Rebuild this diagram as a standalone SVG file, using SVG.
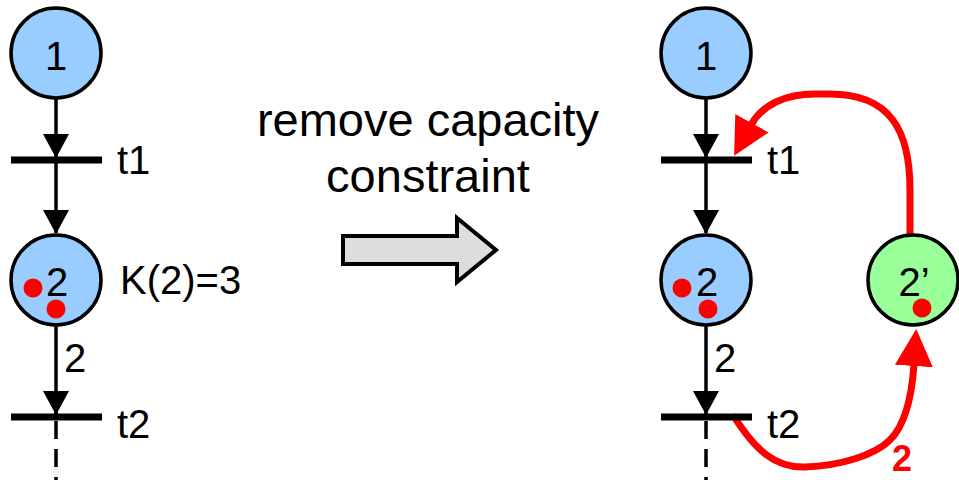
<svg xmlns="http://www.w3.org/2000/svg" width="959" height="480" viewBox="0 0 959 480">
<style>
.place{stroke:#000;stroke-width:3.5}
.blue{fill:#99CCFF}
.green{fill:#99FF99}
.bar{stroke:#000;stroke-width:7}
.arc{stroke:#000;stroke-width:3.5;fill:none}
.red{stroke:#FF0000;stroke-width:7;fill:none}
.tok{fill:#FF0000}
text{font-family:"Liberation Sans",Arial,sans-serif;font-size:40px;fill:#000}
.mid{text-anchor:middle}
.big{font-size:47px}
</style>
<defs>
<marker id="ab" markerUnits="userSpaceOnUse" markerWidth="24" markerHeight="26" refX="23" refY="13" orient="auto">
<path d="M0,0 L24,13 L0,26 z" fill="#000"/>
</marker>
<marker id="ar" markerUnits="userSpaceOnUse" markerWidth="38" markerHeight="40" refX="2" refY="20" orient="auto">
<path d="M0,1 L37,20 L0,39 z" fill="#FF0000"/>
</marker>
</defs>

<g id="connectors">
<line class="arc" x1="56" y1="99" x2="56" y2="157" marker-end="url(#ab)"/>
<line class="arc" x1="56" y1="160" x2="56" y2="233" marker-end="url(#ab)"/>
<line class="arc" x1="56" y1="326" x2="56" y2="414" marker-end="url(#ab)"/>
<line class="arc" x1="56" y1="417" x2="56" y2="480" stroke-dasharray="18 10" stroke-dashoffset="-4"/>
<line class="arc" x1="706" y1="99" x2="706" y2="157" marker-end="url(#ab)"/>
<line class="arc" x1="706" y1="160" x2="706" y2="233" marker-end="url(#ab)"/>
<line class="arc" x1="706" y1="326" x2="706" y2="414" marker-end="url(#ab)"/>
<line class="arc" x1="706" y1="417" x2="706" y2="480" stroke-dasharray="18 10" stroke-dashoffset="-4"/>
<path class="red" d="M910 234 L910 190 C910 130 890 94 830 94 L815 94 C785 94 762 105 751 125" marker-end="url(#ar)"/>
<path class="red" d="M733 415 C755 450 775 468 805 467 C840 466 875 455 890 440 C905 425 912 395 914 364" marker-end="url(#ar)"/>
<text x="64" y="372">2</text>
<text x="714" y="372">2</text>
<text x="892" y="471" style="fill:#FF0000;font-weight:bold;font-size:36px">2</text>
</g>

<g id="left-p1">
<circle class="place blue" cx="56" cy="53" r="45"/>
<text class="mid" x="56" y="70">1</text>
</g>
<g id="left-t1">
<line class="bar" x1="11" y1="160" x2="102" y2="160"/>
<text x="117" y="174">t1</text>
</g>
<g id="left-p2">
<circle class="place blue" cx="56" cy="280" r="45"/>
<text class="mid" x="57" y="296">2</text>
<circle class="tok" cx="33" cy="288" r="9.5"/>
<circle class="tok" cx="56" cy="309" r="9.5"/>
<text x="120" y="294">K(2)=3</text>
</g>
<g id="left-t2">
<line class="bar" x1="11" y1="417" x2="102" y2="417"/>
<text x="117" y="438">t2</text>
</g>

<g id="transform">
<polygon points="343,236 457,236 457,218 496,250 457,282 457,264 343,264" fill="#DDDDDD" stroke="#000" stroke-width="4" stroke-linejoin="miter"/>
<text class="mid big" x="428" y="136">remove capacity</text>
<text class="mid big" x="428" y="192">constraint</text>
</g>

<g id="right-p1">
<circle class="place blue" cx="706" cy="53" r="45"/>
<text class="mid" x="706" y="70">1</text>
</g>
<g id="right-t1">
<line class="bar" x1="661" y1="160" x2="752" y2="160"/>
<text x="767" y="174">t1</text>
</g>
<g id="right-p2">
<circle class="place blue" cx="706" cy="280" r="45"/>
<text class="mid" x="707" y="296">2</text>
<circle class="tok" cx="682" cy="288" r="9.5"/>
<circle class="tok" cx="708" cy="309" r="9.5"/>
</g>
<g id="right-p2prime">
<circle class="place green" cx="913" cy="280" r="45"/>
<text class="mid" x="914" y="296">2’</text>
<circle class="tok" cx="922" cy="308" r="9.5"/>
</g>
<g id="right-t2">
<line class="bar" x1="661" y1="417" x2="752" y2="417"/>
<text x="767" y="438">t2</text>
</g>
</svg>
